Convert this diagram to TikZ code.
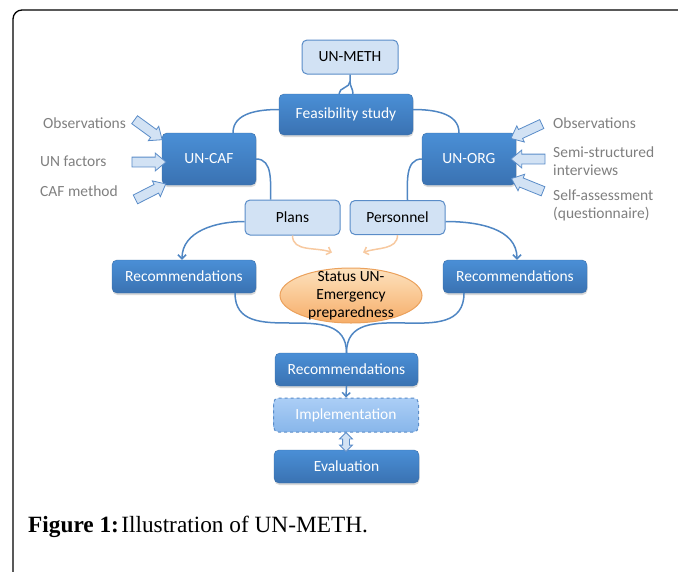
\documentclass[tikz,border=0pt]{standalone}
\usepackage{fontspec}
\setmainfont{Carlito}
\newfontfamily\capfont{Liberation Serif}
\usetikzlibrary{shapes.arrows,shapes.geometric,arrows.meta,shadows}
\definecolor{darktop}{HTML}{4A8FD6}
\definecolor{darkbot}{HTML}{3A72B2}
\definecolor{darkedge}{HTML}{3A6EA8}
\definecolor{lightfill}{HTML}{D2E2F4}
\definecolor{lightedge}{HTML}{5A8CC8}
\definecolor{linkblue}{HTML}{4F86C3}
\definecolor{impltop}{HTML}{ABCEF6}
\definecolor{implbot}{HTML}{88B6EA}
\definecolor{oratop}{HTML}{FDE2BE}
\definecolor{orabot}{HTML}{F6AD68}
\definecolor{oraedge}{HTML}{EBA15C}
\definecolor{oraline}{HTML}{F7C9A0}
\definecolor{labelgray}{HTML}{7F7F7F}
\begin{document}
\begin{tikzpicture}[x=1pt,y=-1pt,font=\fontsize{15.5}{18}\selectfont]
\tikzstyle{darkbox}=[draw=darkedge, rounded corners=5pt, top color=darktop, bottom color=darkbot, text=white, text centered, drop shadow={opacity=0.3, shadow xshift=0.5pt, shadow yshift=-2pt}]
\tikzstyle{lightbox}=[draw=lightedge, line width=1pt, rounded corners=5pt, fill=lightfill, text=black, text centered]
\tikzstyle{implbox}=[draw=lightedge, line width=1pt, dashed, rounded corners=5pt, top color=impltop, bottom color=implbot, text=white, text centered]
\tikzstyle{status}=[ellipse, draw=oraedge, line width=1pt, top color=oratop, bottom color=orabot, inner xsep=-8pt, inner ysep=-9pt, align=center, minimum width=142pt, minimum height=55pt]
\tikzstyle{link}=[draw=linkblue, line width=1.5pt]
\tikzstyle{flow}=[draw=linkblue, line width=1.5pt, -{Straight Barb[length=4pt,width=8pt]}]
\tikzstyle{feed}=[draw=oraline, line width=1.5pt, -{Straight Barb[length=4pt,width=8pt]}]
\tikzstyle{input}=[single arrow, draw=lightedge, fill=lightfill, line width=0.8pt, inner sep=4.5pt, minimum height=34pt, single arrow head extend=4pt, single arrow tip angle=80]
\tikzstyle{label}=[text=labelgray, anchor=west, align=left, inner sep=0pt]

\useasboundingbox (0,0) rectangle (678,571);

% Frame
\draw[line width=1.3pt, rounded corners=9pt] (13,600) -- (13,10) -- (700,10);

% Define boxes
\node[lightbox, minimum width=96pt, minimum height=34pt] (unmeth) at (350,57) {UN-METH};
\node[darkbox, minimum width=134pt, minimum height=41pt] (feas) at (346,114.5) {Feasibility study};
\node[darkbox, minimum width=94pt, minimum height=52pt] (uncaf) at (209,159) {UN-CAF};
\node[darkbox, minimum width=94pt, minimum height=52pt] (unorg) at (469,159) {UN-ORG};
\node[lightbox, minimum width=95pt, minimum height=35pt] (plans) at (292.5,217.5) {Plans};
\node[lightbox, minimum width=95pt, minimum height=34pt] (personnel) at (397.5,217.5) {Personnel};
\node[darkbox, minimum width=144pt, minimum height=33pt] (recl) at (184,276.5) {Recommendations};
\node[darkbox, minimum width=144pt, minimum height=33pt] (recr) at (515,276.5) {Recommendations};
\node[status] (state) at (351,295.5) {Status UN-\\Emergency\\preparedness};
\node[darkbox, minimum width=143pt, minimum height=33pt] (recc) at (346.5,369.5) {Recommendations};
\node[implbox, minimum width=145pt, minimum height=34pt] (impl) at (346,415) {Implementation};
\node[darkbox, minimum width=145pt, minimum height=33pt] (eval) at (346.5,466.5) {Evaluation};

% Input arrows and labels
\node[input, rotate=-36] (inobsl) at (146,128) {};
\node[input] (infac) at (146,162) {};
\node[input, rotate=27] (incaf) at (148,193) {};
\node[input, rotate=205] (inobsr) at (529,130) {};
\node[input, rotate=180] (insemi) at (531,159) {};
\node[input, rotate=158] (inself) at (530,186) {};

\node[label] (obsl) at (43,123) {Observations};
\node[label] (facl) at (40,161) {UN factors};
\node[label] (cafl) at (40,191) {CAF method};
\node[label] (obsr) at (553,123) {Observations};
\node[label] (semir) at (553,161) {Semi-structured\\interviews};
\node[label] (selfr) at (553,205) {Self-assessment\\(questionnaire)};

% Connectors
\draw[link] ([xshift=-7pt]feas.north) to[out=90,in=-90] ([yshift=-7pt]unmeth.south) -- (unmeth.south);
\draw[link] ([xshift=7pt]feas.north) to[out=90,in=-90] ([yshift=-7pt]unmeth.south);
\draw[link] ([yshift=5pt]feas.west) to[out=180,in=90] ([xshift=24pt]uncaf.north);
\draw[link] ([yshift=5pt]feas.east) to[out=0,in=90] ([xshift=-10pt]unorg.north);
\draw[link] (uncaf.east) to[out=0,in=90] ([xshift=-22pt]plans.north);
\draw[link] (unorg.west) to[out=180,in=90] ([xshift=10pt]personnel.north);
\draw[flow] ([yshift=-4pt]plans.west) to[out=180,in=90] ([xshift=-2pt]recl.north);
\draw[flow] ([yshift=-4pt]personnel.east) to[out=0,in=90] ([xshift=2pt]recr.north);
\draw[feed] (plans.south) to[out=-90,in=160] ([xshift=-19pt,yshift=15pt]state.north);
\draw[feed] (personnel.south) to[out=-90,in=20] ([xshift=12pt,yshift=15pt]state.north);
\draw[link] ([xshift=51pt]recl.south) to[out=-90,in=90,looseness=1.2] (recc.north);
\draw[link] ([xshift=-51pt]recr.south) to[out=-90,in=90,looseness=1.2] (recc.north);
\draw[flow] (recc.south) -- (impl.north);
\node[double arrow, draw=lightedge, fill=lightfill, line width=0.8pt, rotate=90, inner sep=3pt, minimum height=19pt, double arrow head extend=3pt] (cycle) at (346,442) {};

% Caption
\node[anchor=base west, inner sep=0pt, font=\capfont\fontsize{23.3}{26}\selectfont] (caption) at (28,532) {\textbf{Figure 1:}\hspace{0.1em}Illustration of UN-METH.};
\end{tikzpicture}
\end{document}
